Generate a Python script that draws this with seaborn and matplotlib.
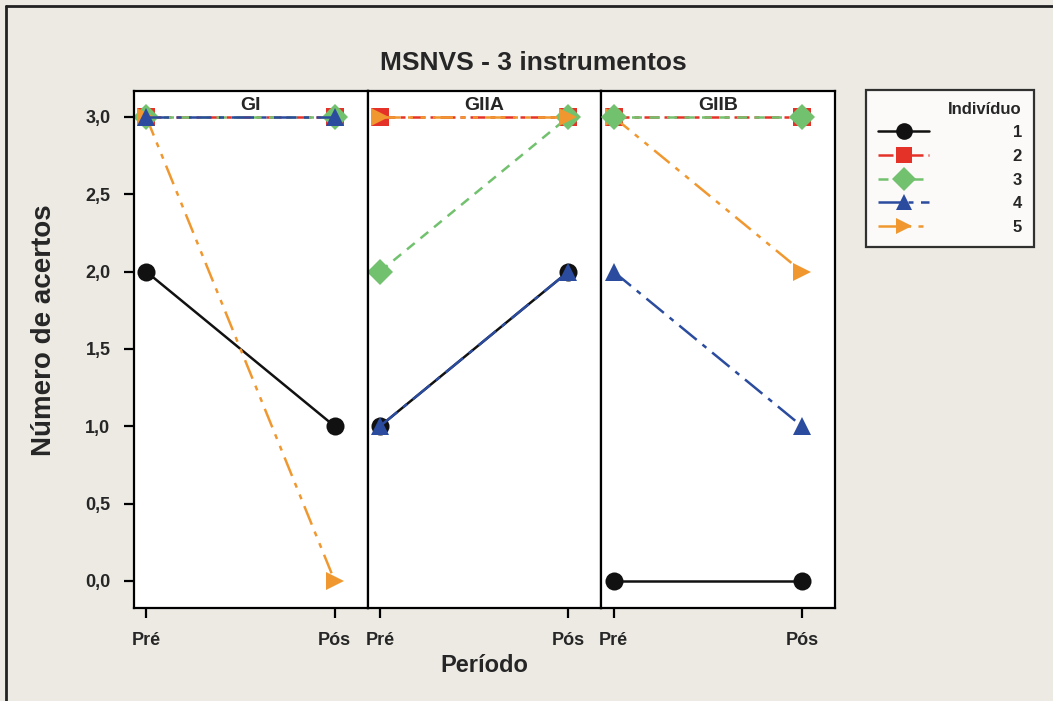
import matplotlib
matplotlib.use("Agg")
import matplotlib.pyplot as plt
import seaborn as sns
import pandas as pd
from matplotlib.lines import Line2D

# data
grupos = ["GI", "GIIA", "GIIB"]
periodos = ["Pré", "Pós"]
individuos = ["1", "2", "3", "4", "5"]
acertos = {
    "GI":   {"1": [2, 1], "2": [3, 3], "3": [3, 3], "4": [3, 3], "5": [3, 0]},
    "GIIA": {"1": [1, 2], "2": [3, 3], "3": [2, 3], "4": [1, 2], "5": [3, 3]},
    "GIIB": {"1": [0, 0], "2": [3, 3], "3": [3, 3], "4": [2, 1], "5": [3, 2]},
}
y_ticks = [0.0, 0.5, 1.0, 1.5, 2.0, 2.5, 3.0]
# individual drawn on top in each panel
no_topo = {"GI": "4", "GIIA": "5", "GIIB": "3"}

cores = {"1": "#111111", "2": "#E53228", "3": "#72C16E", "4": "#2B4C9E", "5": "#F0982F"}
marcadores = {"1": "o", "2": "s", "3": "D", "4": "^", "5": ">"}
tracos = {"1": "", "2": (6, 2, 2, 2), "3": (4, 3), "4": (9, 3, 2, 3), "5": (8, 3, 2, 3, 2, 3)}

rows = []
for g in grupos:
    for ind in individuos:
        for i, p in enumerate(periodos):
            rows.append({"Grupo": g, "Indivíduo": ind, "x": i, "Período": p, "valor": acertos[g][ind][i]})
df = pd.DataFrame(rows)

bg = "#ECEAE3"
sns.set_style("white")
plt.rcParams["font.family"] = ["Liberation Sans", "DejaVu Sans"]
plt.rcParams["font.weight"] = "bold"

fig = plt.figure(figsize=(10.53, 7.01), dpi=100, facecolor=bg)
W, H = 1053, 701
left, right, top, bottom = 134, 835, 91, 608
pw = (right - left) / 3
for k, g in enumerate(grupos):
    ax = fig.add_axes([(left + k * pw) / W, 1 - bottom / H, pw / W, (bottom - top) / H])
    sub = df[df["Grupo"] == g]
    sns.lineplot(data=sub, x="x", y="valor", hue="Indivíduo", style="Indivíduo",
                 hue_order=individuos, style_order=individuos,
                 palette=cores, markers=marcadores, dashes=tracos, markersize=13,
                 markeredgewidth=0, linewidth=1.8, ax=ax, legend=False)
    ax.lines[individuos.index(no_topo[g])].set_zorder(5)
    ax.set_facecolor("white")
    ax.set_xlim(-0.065, 1.175)
    ax.set_ylim(-0.175, 3.168)
    ax.set_xticks([0, 1])
    ax.set_xticklabels(periodos, fontsize=13, fontweight="bold")
    ax.set_yticks(y_ticks)
    ax.tick_params(axis="both", direction="out", length=7, width=1.6, color="black",
                   pad=10, bottom=True, left=True)
    if k == 0:
        ax.set_yticklabels([f"{v:.1f}".replace(".", ",") for v in y_ticks], fontsize=13, fontweight="bold")
    else:
        ax.set_yticklabels([])
        ax.tick_params(axis="y", left=False)
    ax.set_xlabel("")
    ax.set_ylabel("")
    for s in ax.spines.values():
        s.set_color("black")
        s.set_linewidth(1.6)
    ax.text(0.5, 0.988, g, transform=ax.transAxes, ha="center", va="top",
            fontsize=14, fontweight="bold", zorder=10)

fig.text(533 / W, 1 - 63 / H, "MSNVS - 3 instrumentos", ha="center", va="center",
         fontsize=19, fontweight="bold")
fig.text(484 / W, 1 - 665 / H, "Período", ha="center", va="center", fontsize=17, fontweight="bold")
fig.text(44 / W, 1 - 330 / H, "Número de acertos", ha="center", va="center",
         rotation=90, fontsize=20, fontweight="bold")

# legend
handles = [Line2D([0], [0], color=cores[i], marker=marcadores[i], markersize=12,
                  markeredgewidth=0, linewidth=1.8,
                  linestyle="-" if tracos[i] == "" else (0, tracos[i]))
           for i in individuos]
leg = fig.legend(handles, individuos, title="Indivíduo", loc="upper left",
                 bbox_to_anchor=(866 / W, 1 - 90 / H), borderaxespad=0,
                 frameon=True, fancybox=False,
                 edgecolor="black", handlelength=3.1, handletextpad=5.0,
                 borderpad=0.7, labelspacing=0.52,
                 prop={"weight": "bold", "size": 12}, title_fontsize=12)
leg.get_title().set_fontweight("bold")
leg.get_frame().set_linewidth(1.6)
leg.get_frame().set_facecolor("white")
leg._legend_box.align = "right"

# outer frame (left and top edges visible in reference)
fig.add_artist(Line2D([6 / W, 6 / W], [0, 1 - 6 / H], color="#222222", linewidth=2, transform=fig.transFigure))
fig.add_artist(Line2D([6 / W, 1], [1 - 6 / H, 1 - 6 / H], color="#222222", linewidth=2, transform=fig.transFigure))

fig.savefig("out.png", dpi=100, facecolor=bg)
